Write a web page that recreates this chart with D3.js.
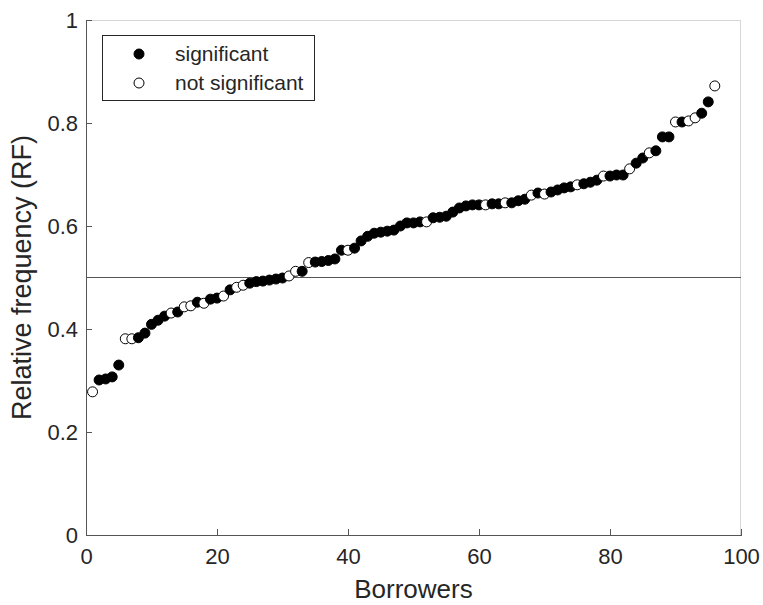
<!DOCTYPE html>
<html>
<head>
<meta charset="utf-8">
<style>
  body { margin: 0; background: #fff; }
  svg text { font-family: "Liberation Sans", Arial, sans-serif; fill: #262626; }
  .axis path, .axis line { stroke: #555; shape-rendering: crispEdges; }
  .axis text { font-size: 22px; }
</style>
</head>
<body>
<div id="chart"></div>
<script src="https://cdnjs.cloudflare.com/ajax/libs/d3/7.8.5/d3.min.js"></script>
<script>
  // relative frequency per borrower (sorted), and whether it was significant
  var rfValues = [
    0.278, 0.301, 0.303, 0.307, 0.330, 0.381, 0.381, 0.383, 0.392, 0.409,
    0.417, 0.425, 0.431, 0.433, 0.443, 0.445, 0.452, 0.450, 0.458, 0.460,
    0.464, 0.476, 0.481, 0.485, 0.489, 0.492, 0.493, 0.495, 0.497, 0.499,
    0.503, 0.512, 0.512, 0.529, 0.530, 0.531, 0.533, 0.536, 0.553, 0.553,
    0.557, 0.571, 0.580, 0.586, 0.588, 0.590, 0.592, 0.600, 0.606, 0.606,
    0.608, 0.608, 0.616, 0.617, 0.619, 0.627, 0.635, 0.639, 0.641, 0.641,
    0.641, 0.643, 0.643, 0.645, 0.645, 0.649, 0.652, 0.660, 0.664, 0.662,
    0.666, 0.670, 0.674, 0.676, 0.680, 0.682, 0.685, 0.689, 0.697, 0.697,
    0.699, 0.699, 0.711, 0.722, 0.732, 0.742, 0.746, 0.773, 0.773, 0.802,
    0.802, 0.804, 0.810, 0.819, 0.841, 0.872
  ];
  // 1 = significant, 0 = not significant
  var significant = [
    0, 1, 1, 1, 1, 0, 0, 1, 1, 1,
    1, 1, 0, 1, 0, 0, 1, 0, 1, 1,
    0, 1, 0, 0, 1, 1, 1, 1, 1, 1,
    0, 0, 1, 0, 1, 1, 1, 1, 1, 0,
    1, 1, 1, 1, 1, 1, 1, 1, 1, 1,
    1, 0, 1, 1, 1, 1, 1, 1, 1, 1,
    0, 1, 1, 0, 1, 1, 1, 0, 1, 0,
    1, 1, 1, 1, 0, 1, 1, 1, 0, 1,
    1, 1, 0, 1, 1, 0, 1, 1, 1, 0,
    1, 0, 0, 1, 1, 0
  ];
  var xTicks = [0, 20, 40, 60, 80, 100];
  var yTicks = [0, 0.2, 0.4, 0.6, 0.8, 1];
  var legendLabels = ["significant", "not significant"];
  var refLevel = 0.5;

  var width = 763, height = 605;
  var margin = { top: 20, right: 22, bottom: 70, left: 86 };
  var w = width - margin.left - margin.right,
      h = height - margin.top - margin.bottom;

  var svg = d3.select("#chart").append("svg")
    .attr("width", width)
    .attr("height", height);

  var g = svg.append("g")
    .attr("transform", "translate(" + margin.left + "," + margin.top + ")");

  var x = d3.scaleLinear().domain([0, 100]).range([0, w]);
  var y = d3.scaleLinear().domain([0, 1]).range([h, 0]);

  // box (top and right edges)
  g.append("line").attr("x1", 0).attr("x2", w).attr("y1", 0.5).attr("y2", 0.5)
    .attr("stroke", "#d6d6d6");
  g.append("line").attr("x1", w - 0.5).attr("x2", w - 0.5).attr("y1", 0).attr("y2", h)
    .attr("stroke", "#d6d6d6");

  var xAxis = g.append("g")
    .attr("class", "axis")
    .attr("transform", "translate(0," + h + ")")
    .call(d3.axisBottom(x).tickValues(xTicks).tickSizeInner(-6).tickSizeOuter(0).tickPadding(13));

  var yAxis = g.append("g")
    .attr("class", "axis")
    .call(d3.axisLeft(y).tickValues(yTicks).tickSizeInner(-6).tickSizeOuter(0).tickPadding(8)
      .tickFormat(function (d) { return d === 0 || d === 1 ? d : d3.format(".1f")(d); }));

  xAxis.select(".domain").attr("stroke", "#555");
  yAxis.select(".domain").attr("stroke", "#555");

  // reference line
  g.append("line")
    .attr("x1", x(0)).attr("x2", x(100))
    .attr("y1", y(refLevel)).attr("y2", y(refLevel))
    .attr("stroke", "#555")
    .attr("stroke-width", 1.2);

  // points
  var pts = rfValues.map(function (v, i) { return { b: i + 1, v: v, s: significant[i] }; });
  g.append("g").selectAll("circle")
    .data(pts)
    .enter().append("circle")
    .attr("cx", function (d) { return x(d.b); })
    .attr("cy", function (d) { return y(d.v); })
    .attr("r", 5)
    .attr("fill", function (d) { return d.s ? "#000" : "#fff"; })
    .attr("stroke", "#000")
    .attr("stroke-width", 1);

  // axis labels
  svg.append("text")
    .attr("x", margin.left + w / 2)
    .attr("y", 598)
    .attr("text-anchor", "middle")
    .style("font-size", "26px")
    .text("Borrowers");

  svg.append("text")
    .attr("transform", "translate(31," + (margin.top + h / 2) + ") rotate(-90)")
    .attr("text-anchor", "middle")
    .style("font-size", "27px")
    .text("Relative frequency (RF)");

  // legend
  var lg = svg.append("g").attr("transform", "translate(102,35)");
  lg.append("rect")
    .attr("x", 0.5).attr("y", 0.5)
    .attr("width", 212).attr("height", 65)
    .attr("fill", "#fff")
    .attr("stroke", "#262626");
  legendLabels.forEach(function (lab, i) {
    lg.append("circle")
      .attr("cx", 37).attr("cy", 19 + i * 29)
      .attr("r", 5)
      .attr("fill", i === 0 ? "#000" : "#fff")
      .attr("stroke", "#000");
    lg.append("text")
      .attr("x", 73).attr("y", 19 + i * 29)
      .attr("dy", "0.35em")
      .style("font-size", "21px")
      .text(lab);
  });
</script>
</body>
</html>
